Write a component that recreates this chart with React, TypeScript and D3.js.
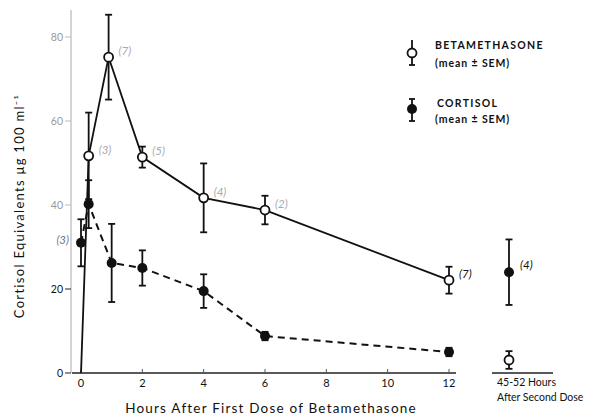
import React from "react";
import * as d3 from "d3";

// hours after first dose
const betaHours = [0, 0.25, 0.9, 2, 4, 6, 12];
const betaMean = [0, 51.7, 75.2, 51.4, 41.7, 38.8, 22.1];
const betaSem = [0, 10.3, 10.1, 2.5, 8.2, 3.4, 3.2];
const betaN = [null, 3, 7, 5, 4, 2, 7];

const cortHours = [0, 0.25, 1, 2, 4, 6, 12];
const cortMean = [31, 40.2, 26.2, 25, 19.5, 8.8, 5];
const cortSem = [5.6, 5.7, 9.3, 4.2, 4.0, 1.0, 1.0];
const cortN = [3, null, null, null, null, null, null];

// 45-52 hours after second dose
const lateBeta = { mean: 3.1, sem: 2.1 };
const lateCort = { mean: 24, sem: 7.8, n: 4 };

const xTicks = [0, 2, 4, 6, 8, 10, 12];
const yTicks = [0, 20, 40, 60, 80];

const FONT = "Lato, 'Open Sans', sans-serif";

const x = d3.scaleLinear().domain([0, 12]).range([81, 449]);
const y = d3.scaleLinear().domain([0, 80]).range([373, 37]);
const xLate = 509;

function ErrorBar({ cx, mean, sem, cap = 3.5 }) {
  const top = y(mean + sem);
  const bot = y(Math.max(0, mean - sem));
  return (
    <g stroke="#111" strokeWidth={1.8}>
      <line x1={cx} x2={cx} y1={top} y2={bot} />
      <line x1={cx - cap} x2={cx + cap} y1={top} y2={top} />
      <line x1={cx - cap} x2={cx + cap} y1={bot} y2={bot} />
    </g>
  );
}

export default function App() {
  const betaPts = betaHours.map((h, i) => ({ h, m: betaMean[i], s: betaSem[i], n: betaN[i] }));
  const cortPts = cortHours.map((h, i) => ({ h, m: cortMean[i], s: cortSem[i], n: cortN[i] }));

  const line = d3
    .line<{ h: number; m: number }>()
    .x((d) => x(d.h))
    .y((d) => y(d.m));

  return (
    <svg
      width={593}
      height={417}
      style={{ position: "absolute", left: 0, top: 0, background: "#fff" }}
      fontFamily={FONT}
    >
      {/* y axis */}
      <line x1={71} x2={71} y1={10} y2={373} stroke="#aaa" strokeWidth={1} />
      {yTicks.map((t) => (
        <g key={t}>
          <line x1={65} x2={71} y1={y(t)} y2={y(t)} stroke={t >= 40 ? "#bbb" : "#222"} strokeWidth={1} />
          <text
            x={63}
            y={y(t)}
            dy="0.35em"
            textAnchor="end"
            fontSize={10.5}
            fill={t >= 40 ? "#999" : "#111"}
          >
            {t}
          </text>
        </g>
      ))}

      {/* x axis */}
      <line x1={72} x2={456} y1={373} y2={373} stroke="#222" strokeWidth={1.3} />
      {xTicks.map((t) => (
        <g key={t}>
          <line x1={x(t)} x2={x(t)} y1={369} y2={373} stroke="#555" strokeWidth={1} />
          <text x={x(t)} y={387} textAnchor="middle" fontSize={11} fill="#111">
            {t}
          </text>
        </g>
      ))}
      <line x1={492} x2={553} y1={373} y2={373} stroke="#222" strokeWidth={1.3} />
      <text x={497} y={386} fontSize={10.5} fill="#111">45-52 Hours</text>
      <text x={497} y={401} fontSize={10.5} fill="#111">After Second Dose</text>

      {/* axis titles */}
      <text x={271} y={413} textAnchor="middle" fontSize={13.5} letterSpacing={1.2} fill="#111">
        Hours After First Dose of Betamethasone
      </text>
      <text
        transform="translate(24,206) rotate(-90)"
        textAnchor="middle"
        fontSize={13}
        letterSpacing={1.3}
        fill="#111"
      >
        Cortisol Equivalents  μg 100 ml⁻¹
      </text>

      {/* lines */}
      <path d={line(betaPts) ?? ""} fill="none" stroke="#111" strokeWidth={1.8} />
      <path
        d={line(cortPts) ?? ""}
        fill="none"
        stroke="#111"
        strokeWidth={2}
        strokeDasharray="7,5"
      />

      {/* error bars */}
      {betaPts.slice(1).map((d) => (
        <ErrorBar key={"be" + d.h} cx={x(d.h)} mean={d.m} sem={d.s} />
      ))}
      {cortPts.map((d) => (
        <ErrorBar key={"ce" + d.h} cx={x(d.h)} mean={d.m} sem={d.s} />
      ))}
      <ErrorBar cx={xLate} mean={lateBeta.mean} sem={lateBeta.sem} />
      <ErrorBar cx={xLate} mean={lateCort.mean} sem={lateCort.sem} />

      {/* markers */}
      {cortPts.map((d) => (
        <circle key={"c" + d.h} cx={x(d.h)} cy={y(d.m)} r={5} fill="#111" />
      ))}
      <circle cx={xLate} cy={y(lateCort.mean)} r={5} fill="#111" />
      {betaPts.slice(1).map((d) => (
        <circle
          key={"b" + d.h}
          cx={x(d.h)}
          cy={y(d.m)}
          r={4.5}
          fill="#fff"
          stroke="#111"
          strokeWidth={1.8}
        />
      ))}
      <circle cx={xLate} cy={y(lateBeta.mean)} r={4.5} fill="#fff" stroke="#111" strokeWidth={1.8} />

      {/* n labels */}
      {betaPts.map((d) =>
        d.n == null ? null : (
          <text
            key={"bn" + d.h}
            x={x(d.h) + 10}
            y={y(d.m) - 2}
            fontSize={11.5}
            fontStyle="italic"
            fill={d.h === 12 ? "#111" : "#aaa"}
          >
            ({d.n})
          </text>
        )
      )}
      {cortPts.map((d) =>
        d.n == null ? null : (
          <text
            key={"cn" + d.h}
            x={x(d.h) - 12}
            y={y(d.m) + 1}
            textAnchor="end"
            fontSize={11.5}
            fontStyle="italic"
            fill="#777"
          >
            ({d.n})
          </text>
        )
      )}
      <text x={xLate + 11} y={y(lateCort.mean) - 3} fontSize={11.5} fontStyle="italic" fill="#111">
        ({lateCort.n})
      </text>

      {/* legend */}
      <g stroke="#111" strokeWidth={1.8}>
        <line x1={412} x2={412} y1={40} y2={65} />
        <line x1={409} x2={415} y1={65} y2={65} />
        <line x1={412} x2={412} y1={99} y2={121} />
        <line x1={409} x2={415} y1={99} y2={99} />
        <line x1={409} x2={415} y1={121} y2={121} />
      </g>
      <circle cx={412} cy={53} r={4.5} fill="#fff" stroke="#111" strokeWidth={1.8} />
      <circle cx={412} cy={109} r={5} fill="#111" />
      <text x={435} y={49} fontSize={10.5} fontWeight="bold" letterSpacing={1.3} fill="#111">BETAMETHASONE</text>
      <text x={435} y={67} fontSize={10.5} fontWeight="bold" letterSpacing={0.9} fill="#111">(mean ± SEM)</text>
      <text x={437} y={107} fontSize={10.5} fontWeight="bold" letterSpacing={1.3} fill="#111">CORTISOL</text>
      <text x={435} y={123} fontSize={10.5} fontWeight="bold" letterSpacing={0.9} fill="#111">(mean ± SEM)</text>
    </svg>
  );
}
